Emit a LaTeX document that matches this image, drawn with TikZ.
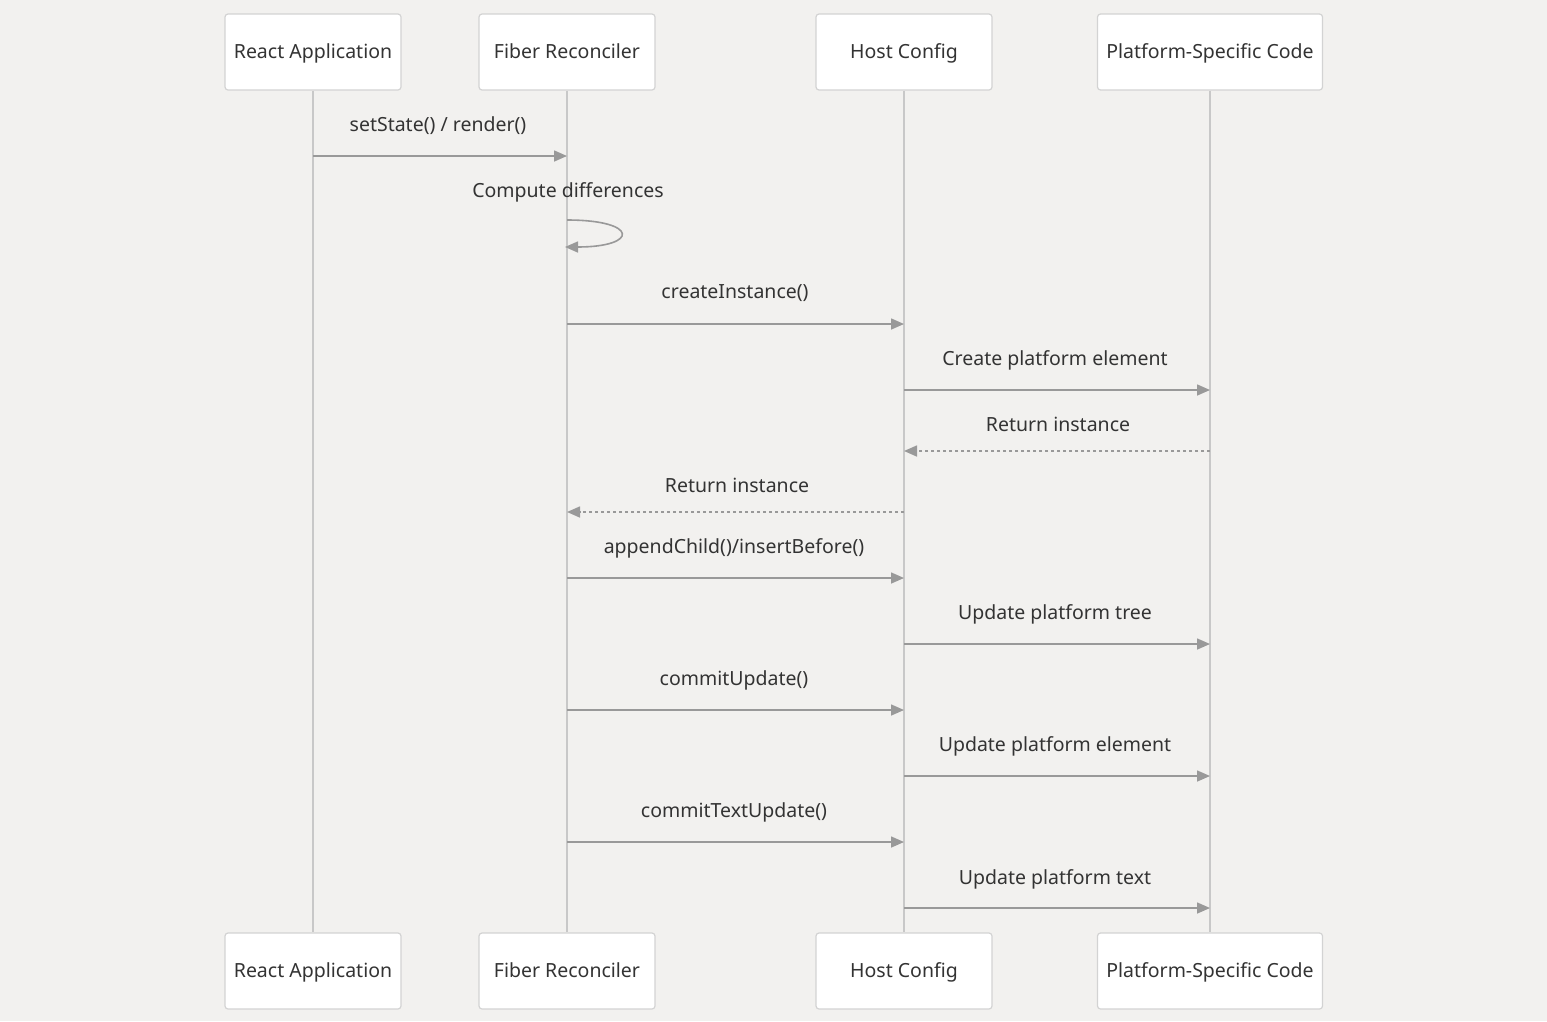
\documentclass[tikz,border=0pt]{standalone}
\usepackage{fontspec}
\setmainfont{Noto Sans}
\usetikzlibrary{arrows.meta}
\definecolor{bgcol}{HTML}{F2F1EF}
\definecolor{boxline}{HTML}{D3D3D3}
\definecolor{lifecol}{HTML}{C8C8C8}
\definecolor{msgcol}{HTML}{999999}
\definecolor{txtcol}{HTML}{333333}
\begin{document}
\begin{tikzpicture}
[
 x=1pt, y=-1pt,
 every node/.style ={font=\fontsize{19.5}{23}\selectfont, text=txtcol, text height=15pt, text depth=3pt},
 ACTOR/.style={rectangle, rounded corners=3pt, draw=boxline, fill=white, line width=1.2pt, minimum height=76pt, inner sep=0pt},
 LIFE/.style={draw=lifecol, line width=2pt},
 MSG/.style={draw=msgcol, line width=1.6pt, -{Triangle[length=13pt, width=11pt]}},
 REPLY/.style={MSG, dash pattern=on 3pt off 3pt},
 LABEL/.style={inner sep=0pt},
 ]
%
\useasboundingbox [fill=bgcol] (0,0) rectangle (1547,1021);
%
\node [ACTOR, minimum width=176pt]  (RAT)  at ( 313, 52)  {React Application};
\node [ACTOR, minimum width=176pt]  (FRT)  at ( 567, 52)  {Fiber Reconciler};
\node [ACTOR, minimum width=176pt]  (HCT)  at ( 904, 52)  {Host Config};
\node [ACTOR, minimum width=225pt]  (PST)  at (1210, 52)  {Platform-Specific Code};
%
\node [ACTOR, minimum width=176pt]  (RAB)  at ( 313, 971)  {React Application};
\node [ACTOR, minimum width=176pt]  (FRB)  at ( 567, 971)  {Fiber Reconciler};
\node [ACTOR, minimum width=176pt]  (HCB)  at ( 904, 971)  {Host Config};
\node [ACTOR, minimum width=225pt]  (PSB)  at (1210, 971)  {Platform-Specific Code};
%
\draw [LIFE]  (RAT.south)  -- (RAB.north) ;
\draw [LIFE]  (FRT.south)  -- (FRB.north) ;
\draw [LIFE]  (HCT.south)  -- (HCB.north) ;
\draw [LIFE]  (PST.south)  -- (PSB.north) ;
%
\coordinate  (A1)   at (0, 156);
\coordinate  (A2a)  at (0, 220);
\coordinate  (A2b)  at (0, 247);
\coordinate  (A3)   at (0, 324);
\coordinate  (A4)   at (0, 390);
\coordinate  (A5)   at (0, 451);
\coordinate  (A6)   at (0, 512);
\coordinate  (A7)   at (0, 578);
\coordinate  (A8)   at (0, 644);
\coordinate  (A9)   at (0, 710);
\coordinate  (A10)  at (0, 776);
\coordinate  (A11)  at (0, 842);
\coordinate  (A12)  at (0, 908);
%
\node [LABEL]  (L1)   at ( 438, 125)  {setState() / render()};
\node [LABEL]  (L2)   at ( 568, 191)  {Compute differences};
\node [LABEL]  (L3)   at ( 735, 292)  {createInstance()};
\node [LABEL]  (L4)   at (1055, 359)  {Create platform element};
\node [LABEL]  (L5)   at (1058, 425)  {Return instance};
\node [LABEL]  (L6)   at ( 737, 486)  {Return instance};
\node [LABEL]  (L7)   at ( 734, 547)  {appendChild()/insertBefore()};
\node [LABEL]  (L8)   at (1055, 613)  {Update platform tree};
\node [LABEL]  (L9)   at ( 734, 679)  {commitUpdate()};
\node [LABEL]  (L10)  at (1055, 745)  {Update platform element};
\node [LABEL]  (L11)  at ( 734, 811)  {commitTextUpdate()};
\node [LABEL]  (L12)  at (1055, 878)  {Update platform text};
%
\draw [MSG]    (RAT |- A1)   -- (FRT |- A1) ;
\draw [MSG]    (FRT |- A2a)  .. controls ([xshift=72pt]FRT |- A2a) and ([xshift=72pt]FRT |- A2b) .. ([xshift=-2pt]FRT |- A2b) ;
\draw [MSG]    (FRT |- A3)   -- (HCT |- A3) ;
\draw [MSG]    (HCT |- A4)   -- (PST |- A4) ;
\draw [REPLY]  (PST |- A5)   -- (HCT |- A5) ;
\draw [REPLY]  (HCT |- A6)   -- (FRT |- A6) ;
\draw [MSG]    (FRT |- A7)   -- (HCT |- A7) ;
\draw [MSG]    (HCT |- A8)   -- (PST |- A8) ;
\draw [MSG]    (FRT |- A9)   -- (HCT |- A9) ;
\draw [MSG]    (HCT |- A10)  -- (PST |- A10) ;
\draw [MSG]    (FRT |- A11)  -- (HCT |- A11) ;
\draw [MSG]    (HCT |- A12)  -- (PST |- A12) ;
%
\end{tikzpicture}
\end{document}
